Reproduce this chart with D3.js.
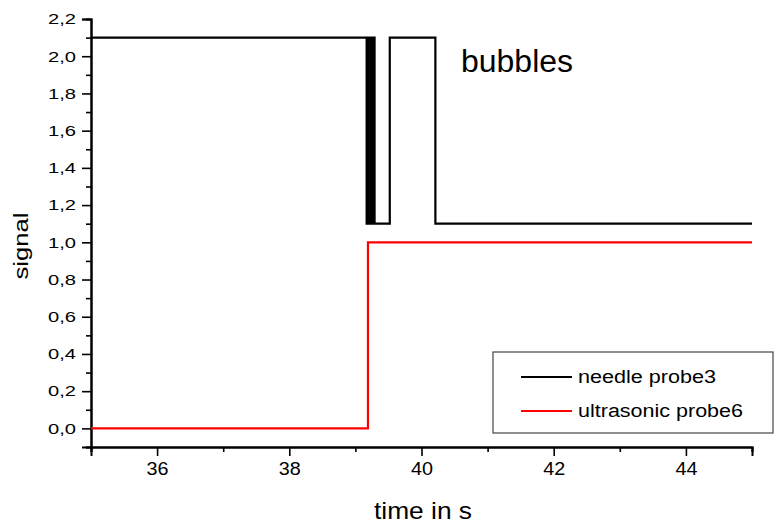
<!DOCTYPE html>
<html>
<head>
<meta charset="utf-8">
<script src="https://cdn.jsdelivr.net/npm/d3@7"></script>
<style>
  html, body { margin: 0; padding: 0; background: #fff; }
  svg { display: block; font-family: "Liberation Sans", Arial, sans-serif; }
</style>
</head>
<body>
<svg id="chart" width="780" height="527"></svg>
<script>
// Needle probe 3: switching times (s) and signal level after each switch
const needleTime = [35, 39.17, 39.18, 39.19, 39.20, 39.21, 39.22, 39.23, 39.24, 39.25, 39.26, 39.27, 39.28, 39.29, 39.52, 40.21, 45];
const needleSignal = [2.1, 1.1, 2.1, 1.1, 2.1, 1.1, 2.1, 1.1, 2.1, 1.1, 2.1, 1.1, 2.1, 1.1, 2.1, 1.1, 1.1];

// Ultrasonic probe 6
const ultraTime = [35, 39.19, 45];
const ultraSignal = [0.0, 1.0, 1.0];

// Axis ticks
const xMajorTicks = [36, 38, 40, 42, 44];
const xMinorTicks = [35, 37, 39, 41, 43, 45];
const yMajorTicks = [0.0, 0.2, 0.4, 0.6, 0.8, 1.0, 1.2, 1.4, 1.6, 1.8, 2.0, 2.2];
const yMinorTicks = [-0.1, 0.1, 0.3, 0.5, 0.7, 0.9, 1.1, 1.3, 1.5, 1.7, 1.9, 2.1];

const seriesNames = ["needle probe3", "ultrasonic probe6"];
const seriesColors = ["#000000", "#ff0000"];

const svg = d3.select("#chart");

const x = d3.scaleLinear().domain([35, 45]).range([91, 752]);
const y = d3.scaleLinear().domain([-0.1, 2.2]).range([447, 19]);

const fmt = d => d3.format(".1f")(d).replace(".", ",");

// Axes: minor ticks first, then major ticks with labels
const axisColor = "#000";

const xMinor = svg.append("g").attr("transform", `translate(0,${y(-0.1)})`)
  .call(d3.axisBottom(x).tickValues(xMinorTicks).tickSize(5).tickFormat(""));
const xMajor = svg.append("g").attr("transform", `translate(0,${y(-0.1)})`)
  .call(d3.axisBottom(x).tickValues(xMajorTicks).tickSize(9).tickPadding(6).tickFormat(d3.format("d")));

const yMinor = svg.append("g").attr("transform", `translate(${x(35)},0)`)
  .call(d3.axisLeft(y).tickValues(yMinorTicks).tickSize(5).tickFormat(""));
const yMajor = svg.append("g").attr("transform", `translate(${x(35)},0)`)
  .call(d3.axisLeft(y).tickValues(yMajorTicks).tickSize(9).tickPadding(6).tickFormat(fmt));

[xMinor, xMajor, yMinor, yMajor].forEach(g => {
  g.select(".domain").attr("stroke", axisColor).attr("stroke-width", 2);
  g.selectAll(".tick line").attr("stroke", axisColor).attr("stroke-width", 1.6);
});

xMajor.selectAll(".tick text")
  .attr("font-size", 19).attr("fill", "#000")
  .attr("font-family", "Liberation Sans, Arial, sans-serif")
  .attr("textLength", 22).attr("lengthAdjust", "spacingAndGlyphs");
yMajor.selectAll(".tick text")
  .attr("font-size", 15).attr("fill", "#000")
  .attr("font-family", "Liberation Sans, Arial, sans-serif")
  .attr("textLength", 28).attr("lengthAdjust", "spacingAndGlyphs");

// Data lines
const line = d3.line()
  .x(d => x(d[0]))
  .y(d => y(d[1]))
  .curve(d3.curveStepAfter);

const needle = needleTime.map((t, i) => [t, needleSignal[i]]);
const ultra = ultraTime.map((t, i) => [t, ultraSignal[i]]);

svg.append("path").datum(ultra)
  .attr("d", line).attr("fill", "none")
  .attr("stroke", seriesColors[1]).attr("stroke-width", 2.2);

svg.append("path").datum(needle)
  .attr("d", line).attr("fill", "none")
  .attr("stroke", seriesColors[0]).attr("stroke-width", 2.2);

// Axis titles
svg.append("text")
  .attr("x", 423).attr("y", 519)
  .attr("text-anchor", "middle")
  .attr("font-size", 24)
  .attr("textLength", 98).attr("lengthAdjust", "spacingAndGlyphs")
  .text("time in s");

svg.append("text")
  .attr("transform", "translate(28,246) rotate(-90)")
  .attr("text-anchor", "middle")
  .attr("font-size", 21)
  .attr("textLength", 67).attr("lengthAdjust", "spacingAndGlyphs")
  .text("signal");

// Annotation
svg.append("text")
  .attr("x", 461).attr("y", 72)
  .attr("font-size", 31)
  .attr("textLength", 112).attr("lengthAdjust", "spacingAndGlyphs")
  .text("bubbles");

// Legend
const legend = svg.append("g");
legend.append("rect")
  .attr("x", 493).attr("y", 352).attr("width", 280).attr("height", 81)
  .attr("fill", "#fff").attr("stroke", "#444").attr("stroke-width", 1.2);

const legendRows = [377, 411];
seriesNames.forEach((name, i) => {
  legend.append("line")
    .attr("x1", 521).attr("x2", 572)
    .attr("y1", legendRows[i]).attr("y2", legendRows[i])
    .attr("stroke", seriesColors[i]).attr("stroke-width", 2.2);
  legend.append("text")
    .attr("x", 578).attr("y", legendRows[i] + 6)
    .attr("font-size", 18)
    .attr("textLength", i === 0 ? 138 : 165).attr("lengthAdjust", "spacingAndGlyphs")
    .text(name);
});
</script>
</body>
</html>
